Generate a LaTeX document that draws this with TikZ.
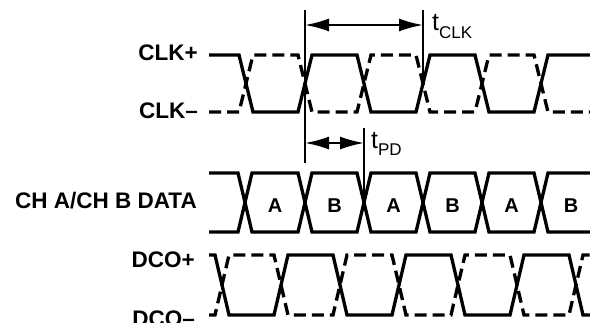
\documentclass[tikz,border=0pt]{standalone}
\usepackage{fontspec}
\setmainfont{Liberation Sans}
\usetikzlibrary{arrows.meta}
\begin{document}
\begin{tikzpicture}[x=1pt,y=-1pt,
  sig/.style={line width=3.3pt, line join=miter},
  sigdash/.style={sig, dash pattern=on 12pt off 6pt},
  lbl/.style={font=\fontsize{22.5}{22.5}\selectfont\bfseries, inner sep=0pt, anchor=base east},
  cell/.style={font=\fontsize{20}{20}\selectfont\bfseries, inner sep=0pt, anchor=base},
  guide/.style={line width=1.6pt},
  dim/.style={line width=2pt, {Latex[length=24pt,width=13pt]}-{Latex[length=24pt,width=13pt]}},
  tlabel/.style={inner sep=0pt, anchor=base west}
]
\useasboundingbox (0,0) rectangle (590,322);
% labels
\node[lbl] (clkp) at (198,60) {CLK+};
\node[lbl] (clkm) at (198,118) {CLK–};
\node[lbl] (data) at (197,208) {CH A/CH B DATA};
\node[lbl] (dcop) at (195,267) {DCO+};
\node[lbl] (dcom) at (195,326) {DCO–};
% CLK
\draw[sig] (209,55)--(239,55)--(253,112)--(298,112)--(312,55)--(357,55)--(371,112)--(416,112)--(430,55)--(475,55)--(489,112)--(534,112)--(548,55)--(590,55);
\draw[sigdash] (209,112)--(239,112)--(253,55)--(298,55)--(312,112)--(357,112)--(371,55)--(416,55)--(430,112)--(475,112)--(489,55)--(534,55)--(548,112)--(590,112);
% DATA
\draw[sig] (209,173)--(238,173)--(252,232)--(298,232)--(312,173)--(357,173)--(371,232)--(416,232)--(430,173)--(475,173)--(489,232)--(534,232)--(548,173)--(590,173);
\draw[sig] (209,232)--(238,232)--(252,173)--(298,173)--(312,232)--(357,232)--(371,173)--(416,173)--(430,232)--(475,232)--(489,173)--(534,173)--(548,232)--(590,232);
\node[cell] (c1) at (275,212) {A};
\node[cell] (c2) at (334.5,212) {B};
\node[cell] (c3) at (393.5,212) {A};
\node[cell] (c4) at (452.5,212) {B};
\node[cell] (c5) at (511.5,212) {A};
\node[cell] (c6) at (571,212) {B};
% DCO
\draw[sig] (209,255)--(215,255)--(229,315)--(274,315)--(288,255)--(333,255)--(347,315)--(392,315)--(406,255)--(451,255)--(465,315)--(510,315)--(524,255)--(569,255)--(583,315)--(590,315);
\draw[sigdash] (209,315)--(215,315)--(229,255)--(274,255)--(288,315)--(333,315)--(347,255)--(392,255)--(406,315)--(451,315)--(465,255)--(510,255)--(524,315)--(569,315)--(583,255)--(590,255);
% timing guides
\coordinate (g1t) at (305,10); \coordinate (g1b) at (305,163);
\coordinate (g2t) at (423,10); \coordinate (g2b) at (423,80);
\coordinate (g3t) at (364,128); \coordinate (g3b) at (364,200);
\draw[guide] (g1t) -- (g1b);
\draw[guide] (g2t) -- (g2b);
\draw[guide] (g3t) -- (g3b);
\coordinate (a1) at (305,25); \coordinate (a2) at (423,25);
\coordinate (b1) at (305,143); \coordinate (b2) at (364,143);
\draw[dim] (a1) -- (a2);
\draw[dim] (b1) -- (b2);
\node[tlabel] (tclk) at (432,30) {\fontsize{25}{25}\selectfont t\raisebox{-8pt}{\fontsize{17}{17}\selectfont CLK}};
\node[tlabel] (tpd) at (371,148) {\fontsize{25}{25}\selectfont t\raisebox{-7pt}{\fontsize{17}{17}\selectfont PD}};
\end{tikzpicture}
\end{document}
